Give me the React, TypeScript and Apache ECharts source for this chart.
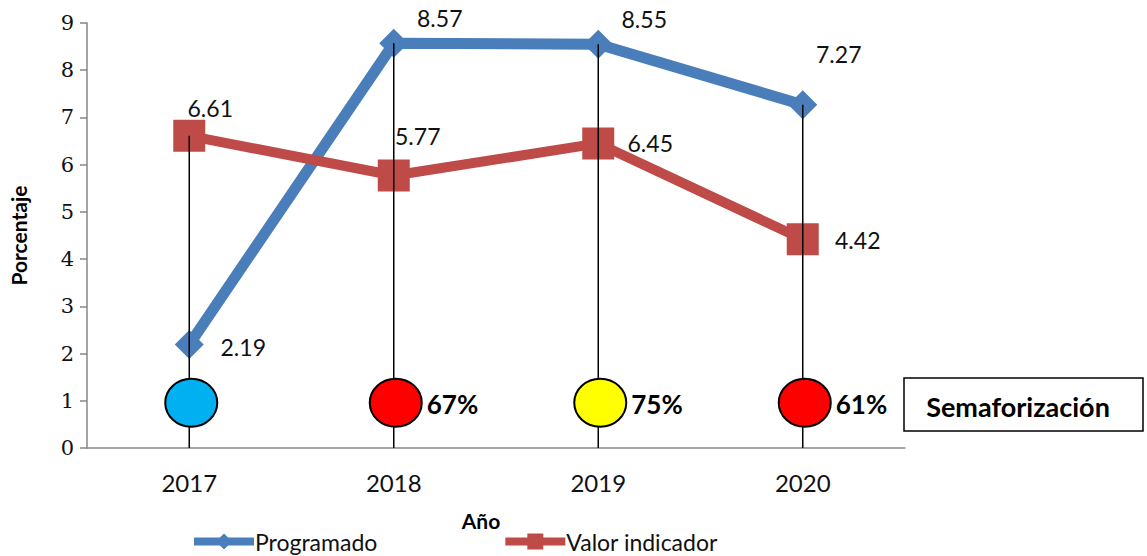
import React, { useEffect, useRef } from "react";
import * as echarts from "echarts";

const categories = ["2017", "2018", "2019", "2020"];
const programado = [2.19, 8.57, 8.55, 7.27];
const valorIndicador = [6.61, 5.77, 6.45, 4.42];
const semaforoLevel = [1, 1, 1, 1];
const semaforoColors = ["#00B0F0", "#FF0000", "#FFFF00", "#FF0000"];
const semaforoText = ["", "67%", "75%", "61%"];
const yTicks = [0, 9, 1];

const progLabelOffsets = [[54, 2], [46, -25], [46, -25], [36, -51]];
const valorLabelOffsets = [[21, -28], [24, -40], [52, 0], [55, 1]];

const BLUE = "#4A7EBB";
const RED = "#BE4B48";
const AXIS = "#868686";

export default function App() {
  const ref = useRef<HTMLDivElement>(null);
  useEffect(() => {
    document.body.style.margin = "0";
    const chart = echarts.init(ref.current!, null, { renderer: "svg" });
    const dataLabel = {
      show: true,
      position: "inside",
      fontFamily: "Lato",
      fontSize: 23,
      color: "#111",
    };
    const dropMax = categories.map((_, i) => Math.max(programado[i], valorIndicador[i]));
    chart.setOption({
      animation: false,
      backgroundColor: "#fff",
      grid: { left: 83, right: 242, top: 23, bottom: 108 },
      legend: {
        data: ["Programado", "Valor indicador"],
        left: 190,
        top: 530,
        padding: 0,
        itemWidth: 60,
        itemHeight: 20,
        itemGap: 124,
        lineStyle: { width: 8 },
        textStyle: { fontFamily: "Lato", fontSize: 23, color: "#111", padding: [0, 0, 0, -4] },
      },
      xAxis: {
        type: "category",
        data: categories,
        name: "Año",
        nameLocation: "middle",
        nameGap: 62,
        nameTextStyle: {
          fontFamily: "Lato",
          fontWeight: "bold",
          fontSize: 21,
          color: "#000",
          padding: [0, 30, 0, 0],
        },
        axisLine: { lineStyle: { color: AXIS, width: 1.5 } },
        axisTick: { show: false },
        axisLabel: { fontFamily: "Lato", fontSize: 24, color: "#111", margin: 22 },
      },
      yAxis: {
        type: "value",
        min: yTicks[0],
        max: yTicks[1],
        interval: yTicks[2],
        name: "Porcentaje",
        nameLocation: "middle",
        nameGap: 58,
        nameTextStyle: { fontFamily: "Lato", fontWeight: "bold", fontSize: 21, color: "#000" },
        axisLine: { show: true, lineStyle: { color: AXIS, width: 1.5 } },
        axisTick: { show: true, length: 7, lineStyle: { color: AXIS, width: 1.5 } },
        splitLine: { show: false },
        axisLabel: { fontFamily: "DejaVu Serif", fontSize: 21, color: "#111", margin: 13 },
      },
      series: [
        {
          name: "Programado",
          type: "line",
          data: programado.map((v, i) => ({
            value: v,
            label: { offset: progLabelOffsets[i] },
          })),
          symbol: "diamond",
          symbolSize: 29,
          lineStyle: { color: BLUE, width: 11 },
          itemStyle: { color: BLUE },
          label: dataLabel,
          z: 2,
        },
        {
          name: "Valor indicador",
          type: "line",
          data: valorIndicador.map((v, i) => ({
            value: v,
            label: { offset: valorLabelOffsets[i] },
          })),
          symbol: "rect",
          symbolSize: 32,
          lineStyle: { color: RED, width: 10 },
          itemStyle: { color: RED },
          label: dataLabel,
          z: 2,
        },
        {
          name: "semaforo",
          type: "custom",
          data: dropMax.map((v, i) => [i, v, semaforoLevel[i]]),
          renderItem: (params: any, api: any) => {
            const i = api.value(0);
            const top = api.coord([i, api.value(1)]);
            const bottom = api.coord([i, 0]);
            const c = api.coord([i, api.value(2)]);
            const cx = c[0] + 2;
            const cy = c[1] + 2;
            const rx = 26;
            const ry = 24;
            return {
              type: "group",
              children: [
                {
                  type: "line",
                  shape: { x1: top[0], y1: top[1], x2: top[0], y2: cy - ry },
                  style: { stroke: "#000", lineWidth: 1.5 },
                },
                {
                  type: "line",
                  shape: { x1: bottom[0], y1: cy + ry, x2: bottom[0], y2: bottom[1] },
                  style: { stroke: "#000", lineWidth: 1.5 },
                },
                {
                  type: "ellipse",
                  shape: { cx, cy, rx, ry },
                  style: { fill: semaforoColors[i], stroke: "#000", lineWidth: 2 },
                },
                {
                  type: "text",
                  x: cx + 31,
                  y: cy + 1,
                  style: {
                    text: semaforoText[i],
                    fontFamily: "Lato",
                    fontWeight: "bold",
                    fontSize: 26,
                    fill: "#000",
                    align: "left",
                    verticalAlign: "middle",
                  },
                },
              ],
            };
          },
          z: 3,
          silent: true,
        },
      ],
      graphic: [
        {
          type: "rect",
          shape: { x: 904, y: 378, width: 239, height: 53 },
          style: { fill: "#fff", stroke: "#000", lineWidth: 1.5 },
          z: 10,
        },
        {
          type: "text",
          x: 1018,
          y: 406,
          style: {
            text: "Semaforización",
            fontFamily: "Lato",
            fontWeight: "bold",
            fontSize: 27,
            fill: "#000",
            align: "center",
            verticalAlign: "middle",
          },
          z: 11,
        },
      ],
    });
    return () => chart.dispose();
  }, []);
  return <div ref={ref} style={{ width: 1147, height: 556 }} />;
}
